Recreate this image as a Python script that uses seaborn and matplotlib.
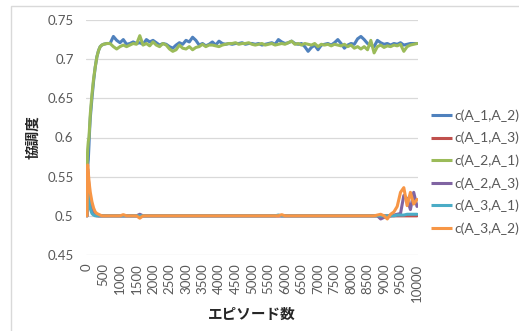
import numpy as np
import pandas as pd
import matplotlib
matplotlib.use("Agg")
import matplotlib.pyplot as plt
import seaborn as sns
from matplotlib.patches import Rectangle

# episode axis (denser sampling during the initial transient)
EPISODES = [0, 20, 40, 60, 80, 100, 150, 200, 250, 300, 350, 400, 450] + list(range(500, 10001, 100))

SERIES_NAMES = ["c(A_1,A_2)", "c(A_1,A_3)", "c(A_2,A_1)",
                "c(A_2,A_3)", "c(A_3,A_1)", "c(A_3,A_2)"]
COLORS = ["#4F81BD", "#C0504D", "#9BBB59", "#8064A2", "#4BACC6", "#F79646"]

C_A1_A2 = [0.550, 0.562, 0.572, 0.590, 0.610, 0.625, 0.650, 0.672, 0.690, 0.703,
           0.711, 0.716, 0.718,
           0.719, 0.720, 0.720, 0.729, 0.724, 0.721, 0.725, 0.719, 0.720, 0.722,
           0.720, 0.721, 0.719, 0.725, 0.722, 0.724, 0.721, 0.718, 0.720, 0.719,
           0.716, 0.714, 0.718, 0.721, 0.719, 0.724, 0.722, 0.728, 0.724, 0.718,
           0.720, 0.717, 0.719, 0.722, 0.718, 0.723, 0.720, 0.719, 0.720, 0.719,
           0.720, 0.720, 0.721, 0.719, 0.720, 0.720, 0.719, 0.720, 0.718, 0.719,
           0.720, 0.721, 0.719, 0.725, 0.722, 0.720, 0.721, 0.723, 0.720, 0.719,
           0.720, 0.716, 0.710, 0.715, 0.718, 0.712, 0.718, 0.719, 0.720, 0.718,
           0.721, 0.725, 0.720, 0.714, 0.718, 0.720, 0.719, 0.726, 0.729, 0.725,
           0.720, 0.718, 0.716, 0.724, 0.721, 0.719, 0.720, 0.718, 0.720, 0.719,
           0.721, 0.718, 0.719, 0.720, 0.720, 0.720]

C_A2_A1 = [0.560, 0.585, 0.595, 0.600, 0.615, 0.630, 0.655, 0.675, 0.690, 0.703,
           0.711, 0.716, 0.718,
           0.719, 0.720, 0.720, 0.716, 0.713, 0.716, 0.718, 0.716, 0.718, 0.720,
           0.719, 0.730, 0.718, 0.720, 0.717, 0.722, 0.718, 0.716, 0.720, 0.718,
           0.713, 0.710, 0.712, 0.718, 0.714, 0.713, 0.716, 0.712, 0.715, 0.716,
           0.719, 0.716, 0.718, 0.718, 0.717, 0.716, 0.718, 0.719, 0.720, 0.720,
           0.721, 0.719, 0.720, 0.720, 0.721, 0.719, 0.718, 0.719, 0.720, 0.718,
           0.719, 0.720, 0.718, 0.719, 0.720, 0.719, 0.721, 0.723, 0.719, 0.720,
           0.718, 0.720, 0.719, 0.718, 0.720, 0.716, 0.719, 0.718, 0.719, 0.717,
           0.719, 0.718, 0.717, 0.719, 0.716, 0.718, 0.714, 0.716, 0.713, 0.716,
           0.712, 0.724, 0.708, 0.716, 0.718, 0.715, 0.717, 0.716, 0.718, 0.717,
           0.719, 0.710, 0.716, 0.718, 0.719, 0.720]

C_A1_A3 = [0.500, 0.555, 0.540, 0.528, 0.520, 0.514, 0.506, 0.502, 0.501, 0.500,
           0.500, 0.500, 0.500,
           0.500, 0.500, 0.500, 0.500, 0.500, 0.500, 0.500, 0.500, 0.500, 0.500,
           0.500, 0.500, 0.500, 0.500, 0.500, 0.500, 0.500, 0.500, 0.500, 0.500,
           0.500, 0.500, 0.500, 0.500, 0.500, 0.500, 0.500, 0.500, 0.500, 0.500,
           0.500, 0.500, 0.500, 0.500, 0.500, 0.500, 0.500, 0.500, 0.500, 0.500,
           0.500, 0.500, 0.500, 0.500, 0.500, 0.500, 0.500, 0.500, 0.500, 0.500,
           0.500, 0.500, 0.500, 0.500, 0.500, 0.500, 0.500, 0.500, 0.500, 0.500,
           0.500, 0.500, 0.500, 0.500, 0.500, 0.500, 0.500, 0.500, 0.500, 0.500,
           0.500, 0.500, 0.500, 0.500, 0.500, 0.500, 0.500, 0.500, 0.500, 0.500,
           0.500, 0.500, 0.500, 0.500, 0.500, 0.500, 0.500, 0.500, 0.500, 0.500,
           0.500, 0.500, 0.500, 0.500, 0.500, 0.500]

C_A2_A3 = [0.500, 0.560, 0.548, 0.537, 0.528, 0.521, 0.510, 0.504, 0.502, 0.501,
           0.500, 0.500, 0.500,
           0.500, 0.500, 0.500, 0.500, 0.500, 0.500, 0.500, 0.500, 0.500, 0.500,
           0.500, 0.502, 0.500, 0.500, 0.500, 0.500, 0.500, 0.500, 0.500, 0.500,
           0.500, 0.500, 0.500, 0.500, 0.500, 0.500, 0.500, 0.500, 0.500, 0.500,
           0.500, 0.500, 0.500, 0.500, 0.500, 0.500, 0.500, 0.500, 0.500, 0.500,
           0.500, 0.500, 0.500, 0.500, 0.500, 0.500, 0.500, 0.500, 0.500, 0.500,
           0.500, 0.500, 0.500, 0.500, 0.500, 0.500, 0.500, 0.500, 0.500, 0.500,
           0.500, 0.500, 0.500, 0.500, 0.500, 0.500, 0.500, 0.500, 0.500, 0.500,
           0.500, 0.500, 0.500, 0.500, 0.500, 0.500, 0.500, 0.500, 0.500, 0.500,
           0.500, 0.500, 0.500, 0.500, 0.496, 0.498, 0.499, 0.500, 0.501, 0.502,
           0.503, 0.526, 0.522, 0.508, 0.530, 0.512]

C_A3_A1 = [0.500, 0.550, 0.535, 0.522, 0.514, 0.509, 0.503, 0.501, 0.500, 0.500,
           0.500, 0.500, 0.500,
           0.500, 0.500, 0.500, 0.500, 0.500, 0.500, 0.500, 0.500, 0.500, 0.500,
           0.500, 0.500, 0.500, 0.500, 0.500, 0.500, 0.500, 0.500, 0.500, 0.500,
           0.500, 0.500, 0.500, 0.500, 0.500, 0.500, 0.500, 0.500, 0.500, 0.500,
           0.500, 0.500, 0.500, 0.500, 0.500, 0.500, 0.500, 0.500, 0.500, 0.500,
           0.500, 0.500, 0.500, 0.500, 0.500, 0.500, 0.500, 0.500, 0.500, 0.500,
           0.500, 0.500, 0.500, 0.501, 0.500, 0.500, 0.500, 0.500, 0.500, 0.500,
           0.500, 0.500, 0.500, 0.500, 0.500, 0.500, 0.500, 0.500, 0.500, 0.500,
           0.500, 0.500, 0.500, 0.500, 0.500, 0.500, 0.500, 0.500, 0.500, 0.500,
           0.500, 0.500, 0.500, 0.500, 0.500, 0.500, 0.500, 0.500, 0.500, 0.501,
           0.501, 0.501, 0.502, 0.502, 0.502, 0.502]

C_A3_A2 = [0.500, 0.565, 0.555, 0.545, 0.537, 0.530, 0.518, 0.510, 0.505, 0.503,
           0.502, 0.501, 0.500,
           0.500, 0.500, 0.500, 0.500, 0.500, 0.500, 0.5015, 0.500, 0.500, 0.500,
           0.500, 0.497, 0.500, 0.500, 0.500, 0.500, 0.500, 0.500, 0.500, 0.500,
           0.500, 0.500, 0.500, 0.500, 0.500, 0.500, 0.500, 0.500, 0.500, 0.500,
           0.500, 0.500, 0.500, 0.500, 0.500, 0.500, 0.500, 0.500, 0.500, 0.500,
           0.500, 0.500, 0.500, 0.500, 0.500, 0.500, 0.500, 0.500, 0.500, 0.500,
           0.500, 0.500, 0.500, 0.500, 0.5015, 0.500, 0.500, 0.500, 0.500, 0.500,
           0.500, 0.500, 0.500, 0.500, 0.500, 0.500, 0.500, 0.500, 0.500, 0.500,
           0.500, 0.500, 0.500, 0.500, 0.500, 0.500, 0.500, 0.500, 0.500, 0.500,
           0.500, 0.500, 0.500, 0.501, 0.502, 0.500, 0.496, 0.502, 0.505, 0.512,
           0.530, 0.536, 0.513, 0.530, 0.515, 0.521]

Y_TICKS = [0.45, 0.5, 0.55, 0.6, 0.65, 0.7, 0.75]
Y_TICK_LABELS = ["0.45", "0.5", "0.55", "0.6", "0.65", "0.7", "0.75"]
X_TICKS = list(range(0, 10001, 500))

# ---- long table for seaborn
wide = pd.DataFrame({
    "episode": EPISODES,
    SERIES_NAMES[0]: C_A1_A2,
    SERIES_NAMES[1]: C_A1_A3,
    SERIES_NAMES[2]: C_A2_A1,
    SERIES_NAMES[3]: C_A2_A3,
    SERIES_NAMES[4]: C_A3_A1,
    SERIES_NAMES[5]: C_A3_A2,
})
df = wide.melt(id_vars="episode", var_name="series", value_name="value")

sns.set_theme(style="white")
plt.rcParams["font.family"] = ["Lato", "Noto Sans CJK JP", "DejaVu Sans"]

W, H = 519, 331
fig = plt.figure(figsize=(W / 100, H / 100), dpi=100)
fig.patch.set_facecolor("white")

# outer chart frame (only top/left edges visible in the crop)
fig.patches.append(Rectangle((11 / W, -0.05), 1.2, 1 - 6 / H + 0.05,
                             transform=fig.transFigure, fill=False,
                             edgecolor="#D9D9D9", linewidth=1.0))

ax = fig.add_axes([86 / W, 1 - 255 / H, 332 / W, 235 / H])

sns.lineplot(data=df, x="episode", y="value", hue="series",
             hue_order=SERIES_NAMES, palette=COLORS, linewidth=2.2,
             estimator=None, sort=False, ax=ax)
for line in ax.get_lines():
    line.set_solid_joinstyle("round")
    line.set_solid_capstyle("round")

ax.set_xlim(-30, 10030)
ax.set_ylim(0.45, 0.75)
ax.set_yticks(Y_TICKS)
ax.set_yticklabels(Y_TICK_LABELS)
ax.set_xticks(X_TICKS)
ax.set_xticklabels([str(t) for t in X_TICKS], rotation=90)
ax.tick_params(axis="y", length=0, pad=9, labelsize=9.5, labelcolor="#595959")
ax.tick_params(axis="x", length=0, pad=6, labelsize=9.5, labelcolor="#595959")

ax.grid(axis="y", color="#D9D9D9", linewidth=0.9)
ax.grid(axis="x", visible=False)
ax.set_axisbelow(True)
for s in ax.spines.values():
    s.set_visible(False)

ax.set_xlabel("エピソード数", fontsize=10.5, fontweight="bold", color="#262626",
              family=["Noto Sans CJK JP", "DejaVu Sans"], labelpad=3)
ax.set_ylabel("協調度", fontsize=10.5, fontweight="bold", color="#262626",
              family=["Noto Sans CJK JP", "DejaVu Sans"], labelpad=5)

handles, labels = ax.get_legend_handles_labels()
if ax.legend_:
    ax.legend_.remove()
leg = fig.legend(handles, labels, loc="center left",
                 bbox_to_anchor=(431 / W, 1 - 172 / H), frameon=False,
                 fontsize=10, handlelength=1.5, handletextpad=0.2,
                 labelspacing=0.72, borderpad=0, borderaxespad=0)
for t in leg.get_texts():
    t.set_color("#595959")
for h in leg.legend_handles:
    h.set_linewidth(2.2)
    h.set_solid_capstyle("butt")

fig.savefig("out.png", dpi=100)
